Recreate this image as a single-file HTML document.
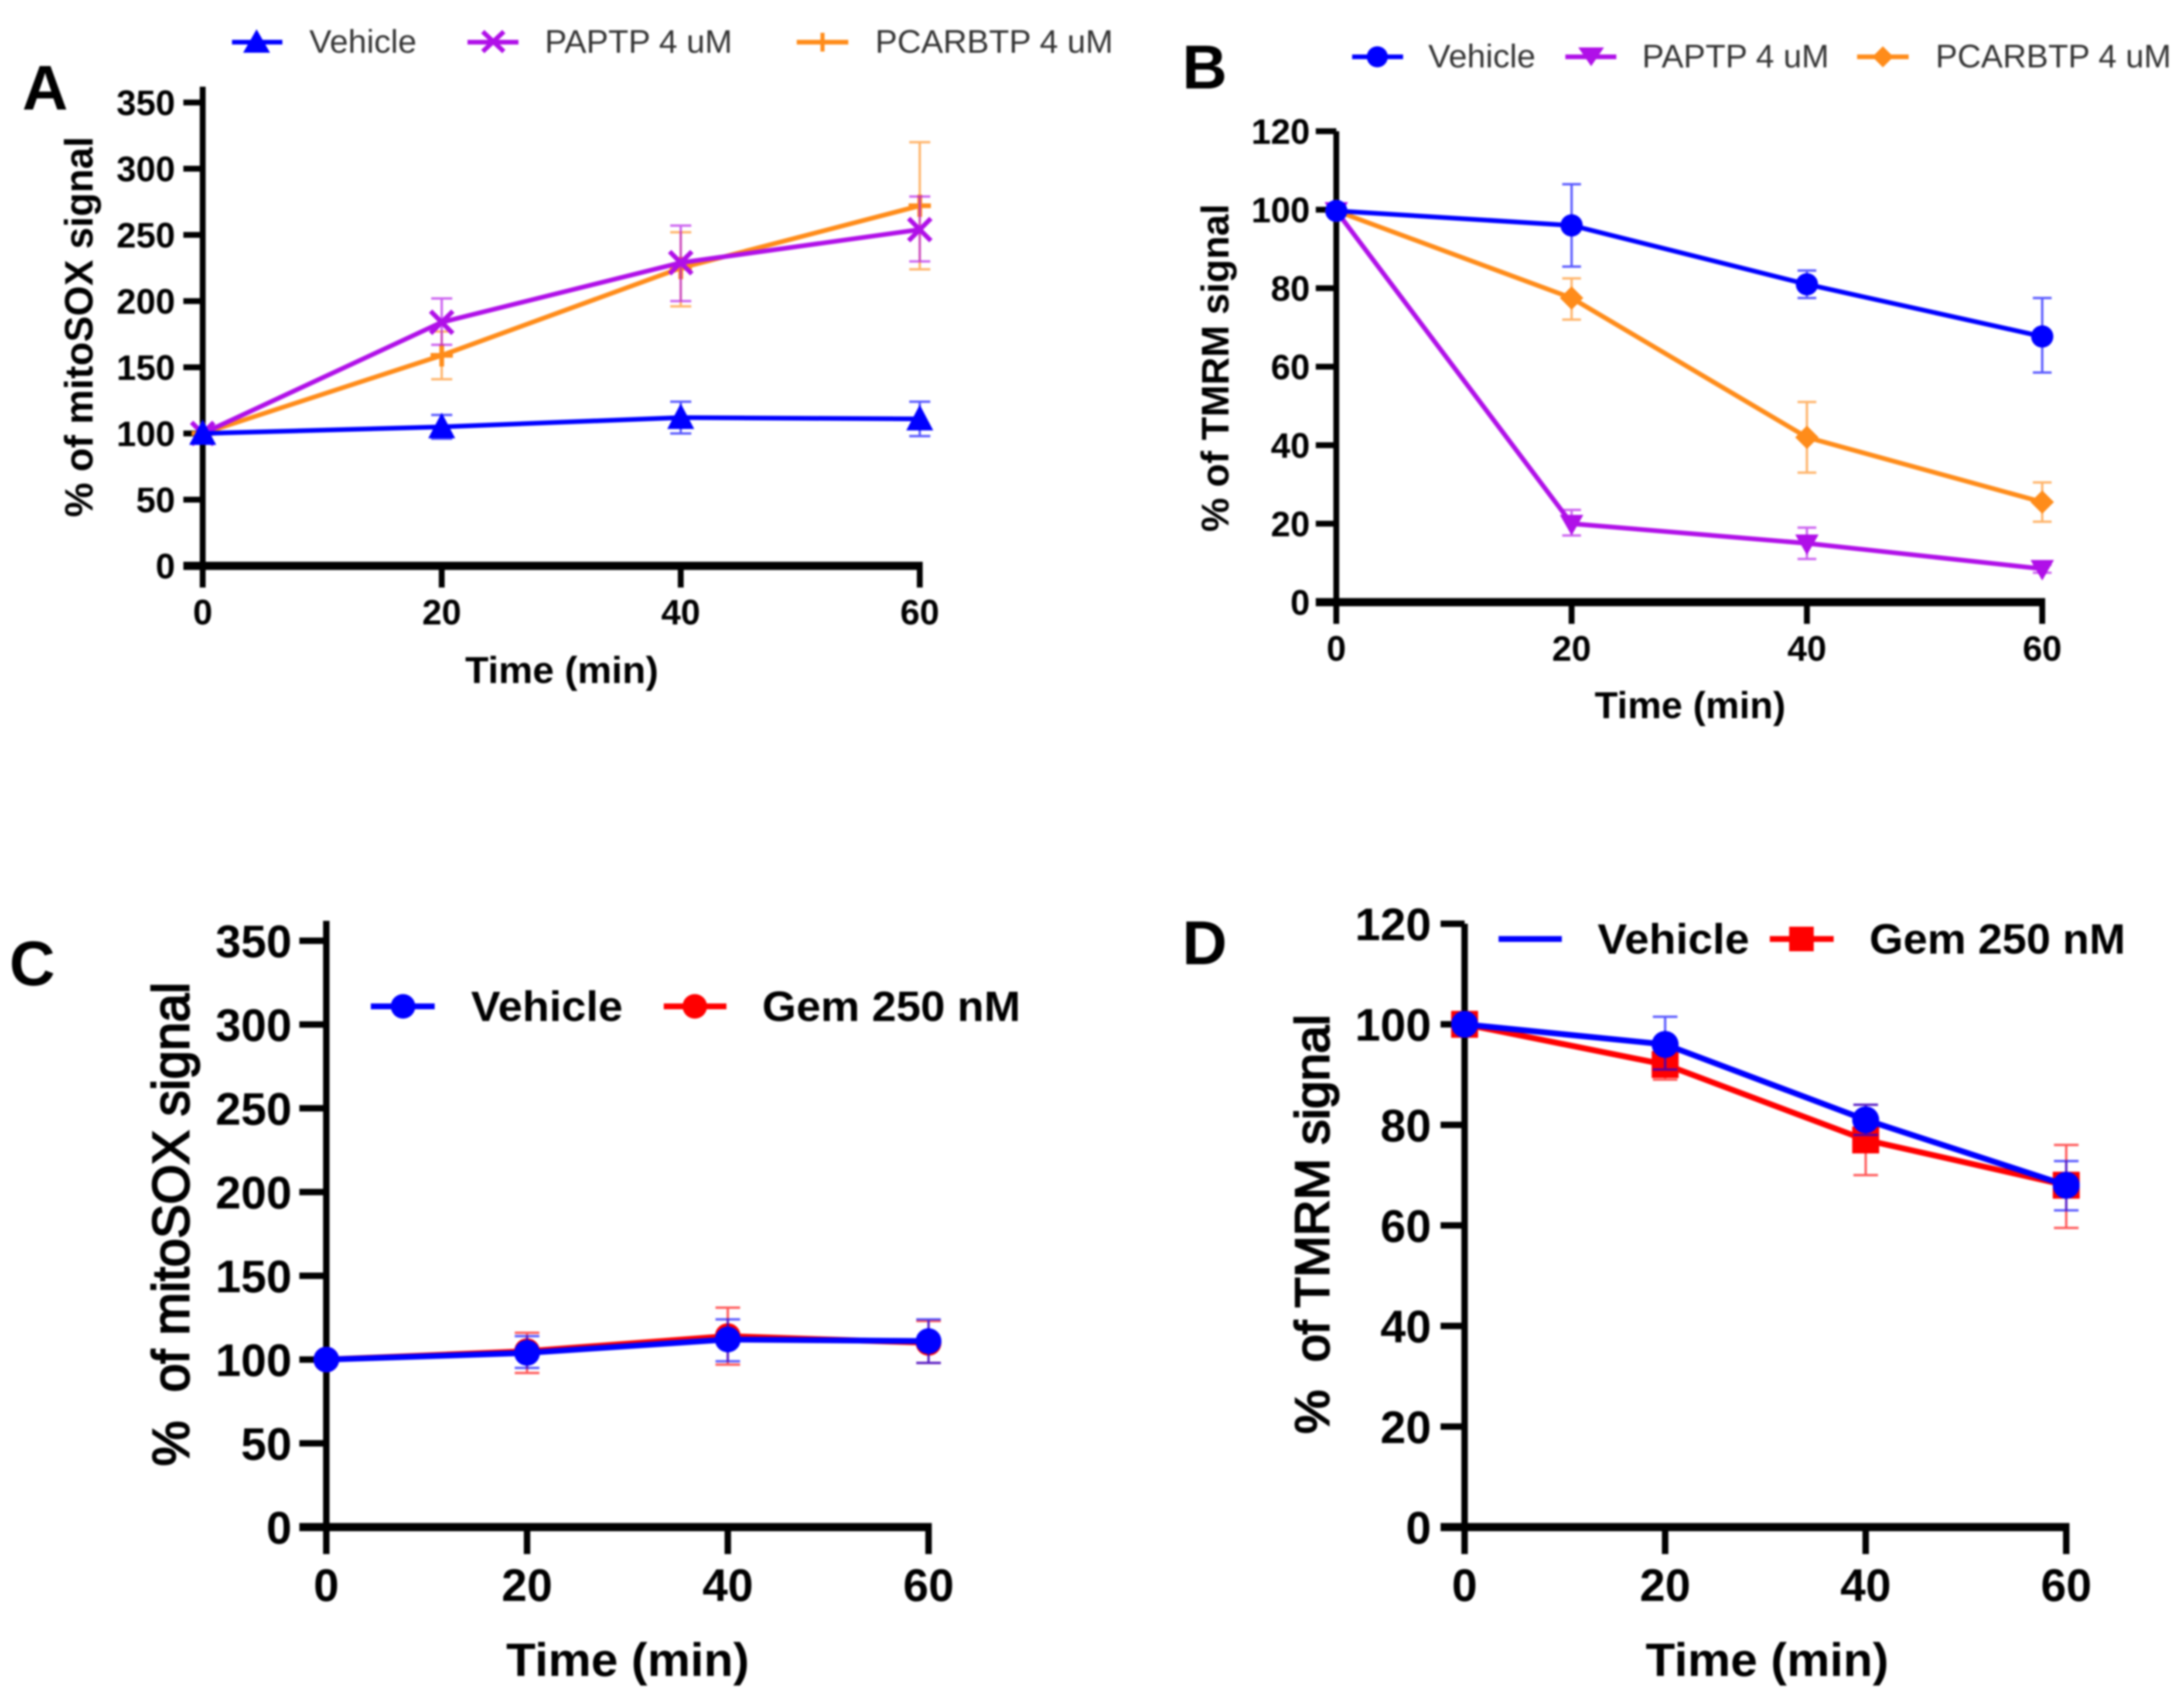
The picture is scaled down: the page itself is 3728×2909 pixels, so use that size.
<!DOCTYPE html>
<html lang="en">
<head>
<meta charset="utf-8">
<title>mitoSOX and TMRM time courses</title>
<style>
html,body{margin:0;padding:0;background:#fff;width:3728px;height:2909px;overflow:hidden}
svg{display:block;filter:blur(1.6px)}
text{font-family:"Liberation Sans",Arial,sans-serif;fill:#000}
.b{font-weight:700}
.leg{fill:#333;font-size:56px}
</style>
</head>
<body>
<svg id="fig" xmlns="http://www.w3.org/2000/svg" width="3728" height="2909" viewBox="0 0 3728 2909">
  <rect width="3728" height="2909" fill="#fff"/>
  <text class="b" x="38" y="187" font-size="108">A</text>
  <text class="b" x="2018" y="151" font-size="106">B</text>
  <text class="b" x="16" y="1682" font-size="108">C</text>
  <text class="b" x="2018" y="1646" font-size="106">D</text>

  <text class="b" font-size="68" text-anchor="middle" textLength="650" lengthAdjust="spacingAndGlyphs" transform="translate(158,558) rotate(-90)">% of mitoSOX signal</text>
  <text class="b" font-size="66" text-anchor="middle" textLength="560" lengthAdjust="spacingAndGlyphs" transform="translate(2097,628) rotate(-90)">% of TMRM signal</text>
  <text font-size="88" stroke="#000" stroke-width="3" text-anchor="middle" textLength="826" lengthAdjust="spacingAndGlyphs" xml:space="preserve" transform="translate(322,2090) rotate(-90)">%  of mitoSOX signal</text>
  <text font-size="82" stroke="#000" stroke-width="3" text-anchor="middle" textLength="716" lengthAdjust="spacingAndGlyphs" xml:space="preserve" transform="translate(2268,2090) rotate(-90)">%  of TMRM signal</text>

  <text class="b" x="794" y="1166" font-size="64" textLength="330" lengthAdjust="spacingAndGlyphs">Time (min)</text>
  <text class="b" x="2722" y="1226" font-size="64" textLength="326" lengthAdjust="spacingAndGlyphs">Time (min)</text>
  <text class="b" x="864" y="2861" font-size="80" textLength="415" lengthAdjust="spacingAndGlyphs">Time (min)</text>
  <text class="b" x="2809" y="2861" font-size="80" textLength="415" lengthAdjust="spacingAndGlyphs">Time (min)</text>

  <g>
    <g>
      <line x1="396" x2="482" y1="72" y2="72" stroke="#0000ff" stroke-width="8"/>
      <polygon points="438,50 461,90 415,90" fill="#0000ff"/>
      <text class="leg" x="528" y="90" textLength="183" lengthAdjust="spacingAndGlyphs">Vehicle</text>
    </g>
    <g>
      <line x1="798" x2="885" y1="72" y2="72" stroke="#b010e8" stroke-width="8"/>
      <path d="M824 54L860 88M860 54L824 88" stroke="#b010e8" stroke-width="8" fill="none"/>
      <text class="leg" x="930" y="90" textLength="320" lengthAdjust="spacingAndGlyphs">PAPTP 4 uM</text>
    </g>
    <g>
      <line x1="1360" x2="1448" y1="72" y2="72" stroke="#ff8c1a" stroke-width="8"/>
      <path d="M1404 56V88" stroke="#ff8c1a" stroke-width="7" fill="none"/>
      <text class="leg" x="1494" y="90" textLength="406" lengthAdjust="spacingAndGlyphs">PCARBTP 4 uM</text>
    </g>
  </g>

  <g>
    <g>
      <line x1="2308" x2="2395" y1="97" y2="97" stroke="#0000ff" stroke-width="8"/>
      <circle cx="2351" cy="97" r="18" fill="#0000ff"/>
      <text class="leg" x="2438" y="115" textLength="183" lengthAdjust="spacingAndGlyphs">Vehicle</text>
    </g>
    <g>
      <line x1="2672" x2="2759" y1="97" y2="97" stroke="#b010e8" stroke-width="8"/>
      <polygon points="2694,81 2738,81 2716,113" fill="#b010e8"/>
      <text class="leg" x="2803" y="115" textLength="319" lengthAdjust="spacingAndGlyphs">PAPTP 4 uM</text>
    </g>
    <g>
      <line x1="3170" x2="3258" y1="97" y2="97" stroke="#ff8c1a" stroke-width="8"/>
      <polygon points="3214,79 3232,97 3214,115 3196,97" fill="#ff8c1a"/>
      <text class="leg" x="3304" y="115" textLength="402" lengthAdjust="spacingAndGlyphs">PCARBTP 4 uM</text>
    </g>
  </g>

  <g>
    <g>
      <line x1="633" x2="742" y1="1718" y2="1718" stroke="#0000ff" stroke-width="10"/>
      <circle cx="688" cy="1718" r="21" fill="#0000ff"/>
      <text class="b" font-size="72" x="804" y="1743" textLength="259" lengthAdjust="spacingAndGlyphs">Vehicle</text>
    </g>
    <g>
      <line x1="1133" x2="1240" y1="1718" y2="1718" stroke="#ff0000" stroke-width="10"/>
      <circle cx="1186" cy="1718" r="21" fill="#ff0000"/>
      <text class="b" font-size="72" x="1301" y="1743" textLength="441" lengthAdjust="spacingAndGlyphs">Gem 250 nM</text>
    </g>
  </g>

  <g>
    <g>
      <line x1="2558" x2="2666" y1="1603" y2="1603" stroke="#0000ff" stroke-width="10"/>
      <text class="b" font-size="72" x="2727" y="1628" textLength="259" lengthAdjust="spacingAndGlyphs">Vehicle</text>
    </g>
    <g>
      <line x1="3021" x2="3130" y1="1603" y2="1603" stroke="#ff0000" stroke-width="10"/>
      <rect x="3054" y="1582" width="42" height="42" fill="#ff0000"/>
      <text class="b" font-size="72" x="3191" y="1628" textLength="437" lengthAdjust="spacingAndGlyphs">Gem 250 nM</text>
    </g>
  </g>
  <g id="plots"></g>
</svg>

<script>
// Shared categories and tick labels
const timeCategories = [0, 20, 40, 60];
const mitoSoxTicks = [0, 50, 100, 150, 200, 250, 300, 350];
const tmrmTicks = [0, 20, 40, 60, 80, 100, 120];

// Panel A
const aVehicle = [100, 105, 112, 111];
const aVehicleLow = [null, 96, 100, 98];
const aVehicleHigh = [null, 114, 124, 124];
const aPaptp = [100, 184, 229, 254];
const aPaptpLow = [null, 167, 200, 230];
const aPaptpHigh = [null, 202, 257, 279];
const aPcarbtp = [100, 159, 225, 272];
const aPcarbtpLow = [null, 141, 196, 224];
const aPcarbtpHigh = [null, 177, 252, 320];

// Panel B
const bVehicle = [99.7, 96, 81, 67.7];
const bVehicleLow = [null, 85.5, 77.5, 58.5];
const bVehicleHigh = [null, 106.5, 84.5, 77.5];
const bPaptp = [99.7, 20, 15, 8.5];
const bPaptpLow = [null, 17, 11, 7.5];
const bPaptpHigh = [null, 23.5, 19, 9.5];
const bPcarbtp = [99.7, 77.5, 42, 25.5];
const bPcarbtpLow = [null, 72, 33, 20.5];
const bPcarbtpHigh = [null, 82.5, 51, 30.5];

// Panel C
const cVehicle = [100, 104, 112, 111];
const cVehicleLow = [null, 95, 99, 98];
const cVehicleHigh = [null, 114, 124, 124];
const cGem = [100, 105, 114, 110];
const cGemLow = [null, 92, 97, 98];
const cGemHigh = [null, 116, 131, 123];

// Panel D
const dVehicle = [100, 96, 81, 68];
const dVehicleLow = [null, 91, 78, 63];
const dVehicleHigh = [null, 101.5, 84, 72.8];
const dGem = [100, 92, 77, 68];
const dGemLow = [null, 89, 70, 59.5];
const dGemHigh = [null, 95, 84, 76];

const SVGNS = 'http://www.w3.org/2000/svg';
const plots = document.getElementById('plots');

function mk(tag, parent, attrs) {
  const e = document.createElementNS(SVGNS, tag);
  for (const k in attrs) e.setAttribute(k, attrs[k]);
  parent.appendChild(e);
  return e;
}

function drawMarker(parent, shape, cx, cy, s, color, lw) {
  let m;
  if (shape === 'tri') {
    m = mk('polygon', parent, {points: `${cx},${cy - s * 1.05} ${cx + s},${cy + s * 0.85} ${cx - s},${cy + s * 0.85}`, fill: color});
  } else if (shape === 'invtri') {
    m = mk('polygon', parent, {points: `${cx - s},${cy - s * 0.75} ${cx + s},${cy - s * 0.75} ${cx},${cy + s}`, fill: color});
  } else if (shape === 'circle') {
    m = mk('circle', parent, {cx: cx, cy: cy, r: s, fill: color});
  } else if (shape === 'diamond') {
    m = mk('polygon', parent, {points: `${cx},${cy - s} ${cx + s},${cy} ${cx},${cy + s} ${cx - s},${cy}`, fill: color});
  } else if (shape === 'square') {
    m = mk('rect', parent, {x: cx - s, y: cy - s, width: 2 * s, height: 2 * s, fill: color});
  } else if (shape === 'x') {
    m = mk('path', parent, {d: `M${cx - s} ${cy - s}L${cx + s} ${cy + s}M${cx + s} ${cy - s}L${cx - s} ${cy + s}`, stroke: color, 'stroke-width': lw, fill: 'none'});
  } else {
    m = mk('path', parent, {d: `M${cx} ${cy - s}V${cy + s}M${cx - s} ${cy}H${cx + s}`, stroke: color, 'stroke-width': lw, fill: 'none'});
  }
  
  
}

function drawPanel(p) {
  const g = mk('g', plots, {});
  
  
  const xMax = timeCategories[timeCategories.length - 1];
  const yMax = p.ticks[p.ticks.length - 1];
  const xScale = v => p.x0 + (p.x1 - p.x0) * v / xMax;
  const yScale = v => p.y0 + (p.yTop - p.y0) * v / yMax;

  const axes = mk('g', g, {});
  
  

  const yAxis = mk('line', axes, {x1: p.x0, x2: p.x0, y1: p.axisTop, y2: p.tickBottom, stroke: '#000', 'stroke-width': p.axisV});
  
  
  const xAxis = mk('line', axes, {x1: p.tickLeft, x2: p.x1 + p.axisV / 2, y1: p.y0, y2: p.y0, stroke: '#000', 'stroke-width': p.axisH});
  
  

  p.ticks.forEach(v => {
    const y = yScale(v);
    if (v !== 0) {
      const t = mk('line', axes, {x1: p.tickLeft, x2: p.x0, y1: y, y2: y, stroke: '#000', 'stroke-width': p.axisV});
      
      
    }
    const l = mk('text', axes, {x: p.yLabelRight, y: y + p.fs * 0.36, 'text-anchor': 'end', 'font-size': p.fs, 'font-weight': 700});
    
    
    l.textContent = v;
  });
  timeCategories.forEach(v => {
    const x = xScale(v);
    const t = mk('line', axes, {x1: x, x2: x, y1: p.y0, y2: p.tickBottom, stroke: '#000', 'stroke-width': p.axisV});
    
    
    const l = mk('text', axes, {x: x, y: p.xLabelBase, 'text-anchor': 'middle', 'font-size': p.fs, 'font-weight': 700});
    
    
    l.textContent = v;
  });

  p.series.forEach(s => {
    const sg = mk('g', g, {});
    
    
    s.values.forEach((v, i) => {
      if (s.low[i] === null) return;
      const x = xScale(timeCategories[i]);
      const yl = yScale(s.low[i]);
      const yh = yScale(s.high[i]);
      const eb = mk('path', sg, {
        d: `M${x} ${yl}V${yh}M${x - p.cap} ${yl}H${x + p.cap}M${x - p.cap} ${yh}H${x + p.cap}`,
        stroke: s.color, 'stroke-width': p.errW, fill: 'none', opacity: 0.65
      });
      
      
    });
    const pts = s.values.map((v, i) => xScale(timeCategories[i]) + ',' + yScale(v)).join(' ');
    const line = mk('polyline', sg, {points: pts, fill: 'none', stroke: s.color, 'stroke-width': p.lineW, 'stroke-linejoin': 'round'});
    
    
    s.values.forEach((v, i) => {
      drawMarker(sg, s.shape, xScale(timeCategories[i]), yScale(v), s.size, s.color, p.lineW);
    });
  });
}

const BLUE = '#0000ff', PURPLE = '#b010e8', ORANGE = '#ff8c1a', RED = '#ff0000';

drawPanel({
  id: 'a', x0: 346, x1: 1570, y0: 966, yTop: 175, axisTop: 148, tickLeft: 313, tickBottom: 1003,
  axisV: 10, axisH: 14, yLabelRight: 299, xLabelBase: 1066, fs: 60, lineW: 8, errW: 4, cap: 18,
  ticks: mitoSoxTicks,
  series: [
    {name: 'pcarbtp', color: ORANGE, shape: 'plus', size: 19, values: aPcarbtp, low: aPcarbtpLow, high: aPcarbtpHigh},
    {name: 'paptp', color: PURPLE, shape: 'x', size: 19, values: aPaptp, low: aPaptpLow, high: aPaptpHigh},
    {name: 'vehicle', color: BLUE, shape: 'tri', size: 23, values: aVehicle, low: aVehicleLow, high: aVehicleHigh}
  ]
});

drawPanel({
  id: 'b', x0: 2281, x1: 3486, y0: 1028, yTop: 224, axisTop: 224, tickLeft: 2246, tickBottom: 1065,
  axisV: 10, axisH: 14, yLabelRight: 2236, xLabelBase: 1128, fs: 60, lineW: 8, errW: 4, cap: 16,
  ticks: tmrmTicks,
  series: [
    {name: 'paptp', color: PURPLE, shape: 'invtri', size: 20, values: bPaptp, low: bPaptpLow, high: bPaptpHigh},
    {name: 'pcarbtp', color: ORANGE, shape: 'diamond', size: 20, values: bPcarbtp, low: bPcarbtpLow, high: bPcarbtpHigh},
    {name: 'vehicle', color: BLUE, shape: 'circle', size: 19, values: bVehicle, low: bVehicleLow, high: bVehicleHigh}
  ]
});

drawPanel({
  id: 'c', x0: 557, x1: 1585, y0: 2607, yTop: 1606, axisTop: 1572, tickLeft: 511, tickBottom: 2653,
  axisV: 11, axisH: 14, yLabelRight: 498, xLabelBase: 2733, fs: 78, lineW: 10, errW: 4, cap: 21,
  ticks: mitoSoxTicks,
  series: [
    {name: 'gem', color: RED, shape: 'circle', size: 22, values: cGem, low: cGemLow, high: cGemHigh},
    {name: 'vehicle', color: BLUE, shape: 'circle', size: 22, values: cVehicle, low: cVehicleLow, high: cVehicleHigh}
  ]
});

drawPanel({
  id: 'd', x0: 2500, x1: 3527, y0: 2607, yTop: 1577, axisTop: 1577, tickLeft: 2459, tickBottom: 2653,
  axisV: 11, axisH: 14, yLabelRight: 2443, xLabelBase: 2733, fs: 78, lineW: 10, errW: 4, cap: 21,
  ticks: tmrmTicks,
  series: [
    {name: 'gem', color: RED, shape: 'square', size: 23, values: dGem, low: dGemLow, high: dGemHigh},
    {name: 'vehicle', color: BLUE, shape: 'circle', size: 23, values: dVehicle, low: dVehicleLow, high: dVehicleHigh}
  ]
});
</script>
</body>
</html>
